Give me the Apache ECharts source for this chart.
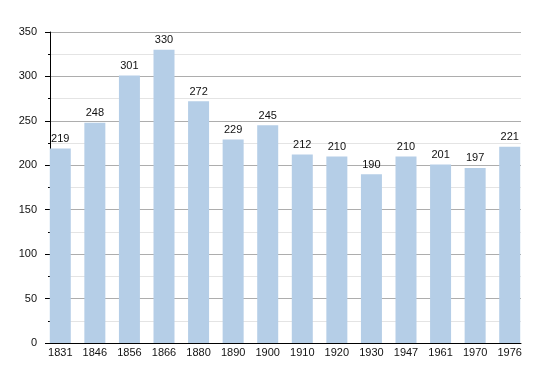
<!DOCTYPE html>
<html><head><meta charset="utf-8">
<script src="https://cdn.jsdelivr.net/npm/echarts@6/dist/echarts.min.js"></script>
<style>html,body{margin:0;padding:0;background:#fff}#c{width:550px;height:373px}</style>
</head><body><div id="c"></div>
<script>
const years = ['1831','1846','1856','1866','1880','1890','1900','1910','1920','1930','1947','1961','1970','1976'];
const population = [219,248,301,330,272,229,245,212,210,190,210,201,197,221];
const yTicks = {min:0, max:350, interval:50};
const font = 'Liberation Sans, Arial, sans-serif';
const chart = echarts.init(document.getElementById('c'), null, {renderer:'canvas'});
chart.setOption({
  animation:false,
  grid:[
    {left:50, right:29, top:32, bottom:30},
    {left:43, right:23, top:32, bottom:30}
  ],
  xAxis:[
    {gridIndex:0, type:'value', min:0, max:1, axisLine:{show:true,onZero:false,lineStyle:{color:'#000',width:1}}, axisTick:{show:false}, axisLabel:{show:false}, splitLine:{show:false}},
    {gridIndex:1, type:'category', data:years, axisLine:{show:false}, axisTick:{show:false},
     axisLabel:{color:'#111', fontSize:11, fontFamily:font, margin:4, interval:0}}
  ],
  yAxis:[
    {gridIndex:0, type:'value', min:yTicks.min, max:yTicks.max, interval:yTicks.interval,
     axisLine:{show:true,lineStyle:{color:'#000',width:1}},
     axisTick:{show:true,length:5,lineStyle:{color:'#000'}},
     minorTick:{show:true,splitNumber:2,length:2,lineStyle:{color:'#000'}},
     minorSplitLine:{show:true,lineStyle:{color:'#e4e4e4',width:1}},
     splitLine:{show:true,lineStyle:{color:'#adadad',width:1}},
     axisLabel:{color:'#111', fontSize:11, fontFamily:font, margin:13}},
    {gridIndex:1, type:'value', min:yTicks.min, max:yTicks.max, show:false, splitLine:{show:false}}
  ],
  series:[{
    type:'bar', xAxisIndex:1, yAxisIndex:1, data:population, barWidth:21,
    itemStyle:{color:'#b5cee7'},
    label:{show:true, position:'top', distance:4, color:'#111', fontSize:11, fontFamily:font}
  }]
});
</script></body></html>
